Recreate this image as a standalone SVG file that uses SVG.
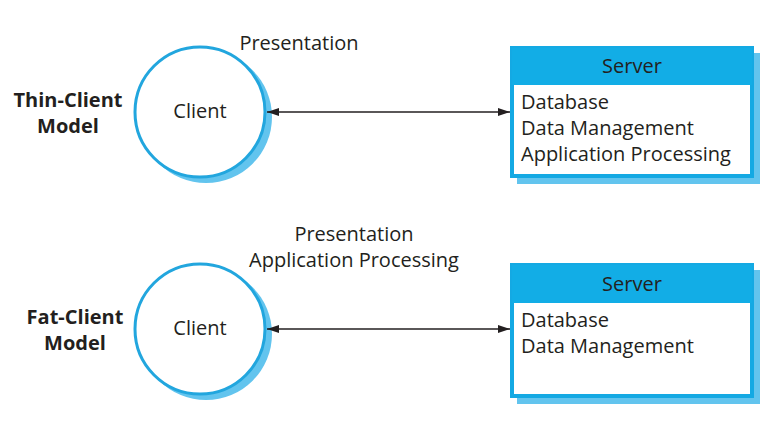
<svg xmlns="http://www.w3.org/2000/svg" width="784" height="440" viewBox="0 0 784 440">
<defs>
<style>
text{font-family:"Open Sans","Liberation Sans",sans-serif;font-size:20px;fill:#231f20}
.b{font-weight:bold;text-anchor:middle}
.c{text-anchor:middle}
.shadow{fill:#62c4ee}
.circ{fill:#fff;stroke:#22a6de;stroke-width:3}
.box{fill:#fff;stroke:#14a9e3;stroke-width:4}
.hdr{fill:#12ade6}
.conn{stroke:#231f20;stroke-width:1.3;fill:none}
</style>
<marker id="ah" viewBox="0 0 12 8" refX="12" refY="4" markerWidth="12" markerHeight="8" markerUnits="userSpaceOnUse" orient="auto-start-reverse">
<path d="M0,0 L12,4 L0,8 Z" fill="#231f20"/>
</marker>
</defs>
<rect width="784" height="440" fill="#fff"/>

<g id="labels">
<text class="b" x="68" y="107">Thin-Client</text>
<text class="b" x="68" y="133">Model</text>
<text class="b" x="75" y="324">Fat-Client</text>
<text class="b" x="75" y="350">Model</text>
<text class="c" x="299" y="50">Presentation</text>
<text class="c" x="354" y="241">Presentation</text>
<text class="c" x="354" y="267">Application Processing</text>
</g>

<g id="client1">
<circle class="shadow" cx="206" cy="117" r="66"/>
<circle class="circ" cx="200" cy="112" r="65"/>
<text class="c" x="200" y="118">Client</text>
</g>

<g id="client2">
<circle class="shadow" cx="206" cy="334" r="66"/>
<circle class="circ" cx="200" cy="329" r="65"/>
<text class="c" x="200" y="335">Client</text>
</g>

<g id="server1">
<rect class="shadow" x="517" y="53" width="243" height="131"/>
<rect class="box" x="512" y="48" width="240" height="128"/>
<rect class="hdr" x="512" y="48" width="240" height="37"/>
<text class="c" x="632" y="73">Server</text>
<text x="521" y="109">Database</text>
<text x="521" y="135">Data Management</text>
<text x="521" y="161">Application Processing</text>
</g>

<g id="server2">
<rect class="shadow" x="517" y="270" width="243" height="134"/>
<rect class="box" x="512" y="265" width="240" height="131"/>
<rect class="hdr" x="512" y="265" width="240" height="38"/>
<text class="c" x="632" y="291">Server</text>
<text x="521" y="327">Database</text>
<text x="521" y="353">Data Management</text>
</g>

<g id="connectors">
<line class="conn" x1="267" y1="112" x2="510" y2="112" marker-start="url(#ah)" marker-end="url(#ah)"/>
<line class="conn" x1="267" y1="329" x2="510" y2="329" marker-start="url(#ah)" marker-end="url(#ah)"/>
</g>
</svg>
